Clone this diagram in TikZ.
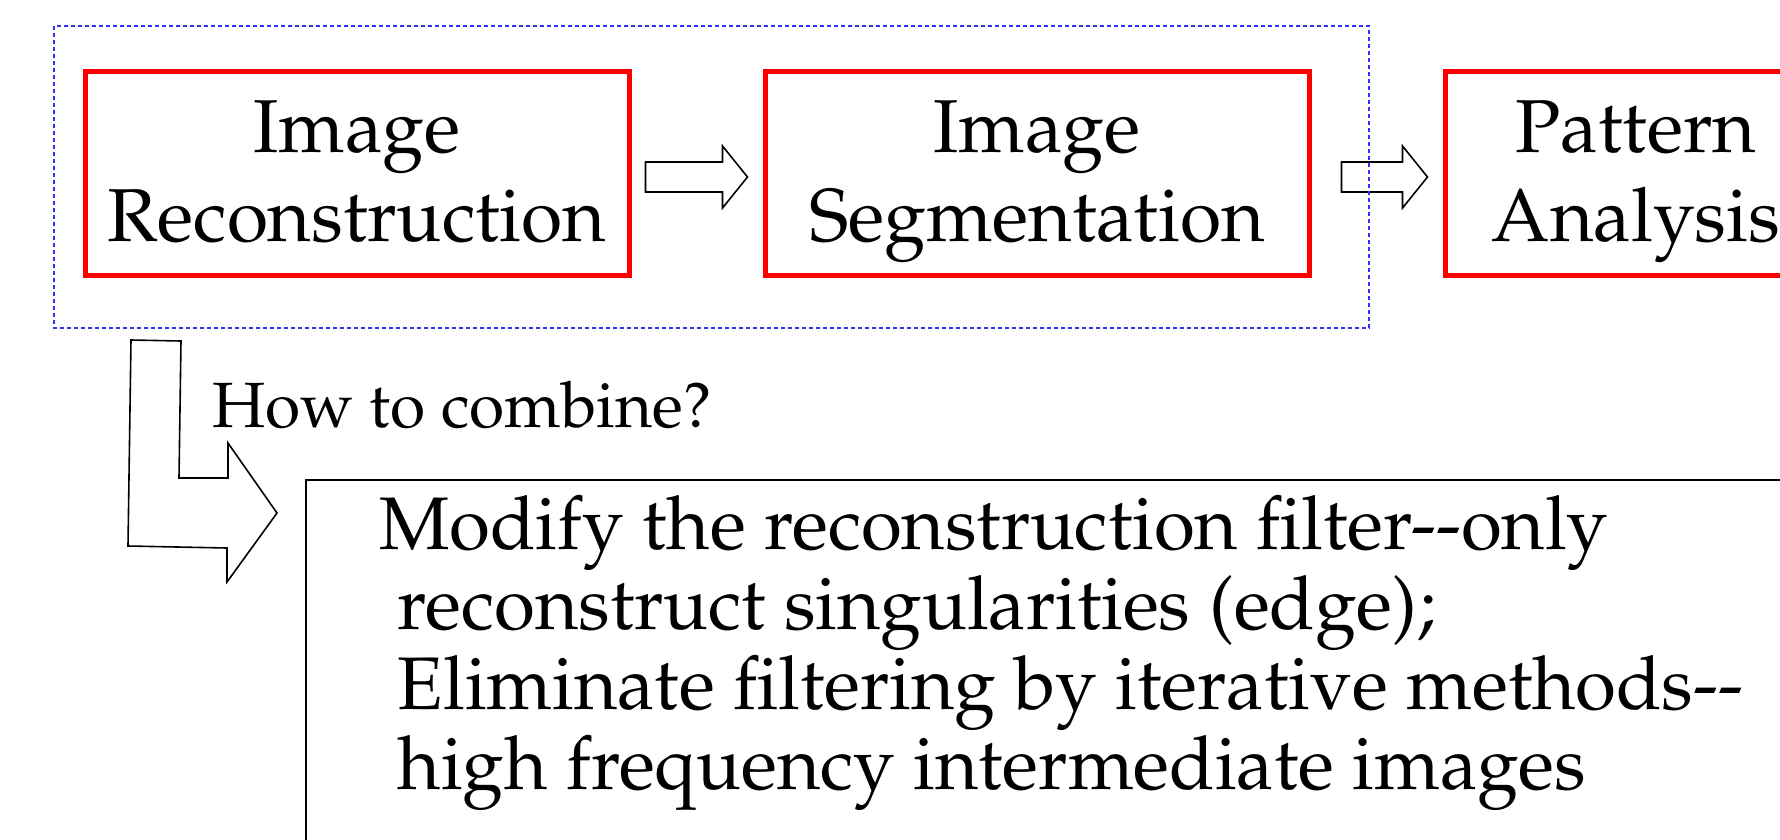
\documentclass[tikz,border=0pt]{standalone}
\usepackage[T1]{fontenc}
\usepackage{mathpazo}
\usetikzlibrary{calc}
\definecolor{framered}{RGB}{255,0,0}
\definecolor{groupblue}{RGB}{50,50,255}
\tikzset{
  stage/.style={draw=framered, line width=5pt, minimum height=204pt, inner sep=0pt,
    align=center, font=\fontsize{75}{89}\selectfont, text height=142pt, text depth=6pt},
  blockarrow/.style={draw=black, line width=1.6pt, fill=white, line join=miter},
  groupframe/.style={draw=groupblue, line width=1.3pt, dash pattern=on 4pt off 3pt},
  notebox/.style={draw=black, line width=1.6pt, inner sep=0pt},
  question/.style={anchor=base west, inner sep=0pt, font=\fontsize{64}{74}\selectfont},
  notetext/.style={anchor=base west, inner sep=0pt, align=left, font=\fontsize{74.5}{80}\selectfont},
}
% hollow block arrow between two stages: #1 source, #2 gap after it, #3 target, #4 gap before it
\newcommand{\flowarrow}[4]{%
  \draw[blockarrow] ($(#1.east)+(#2,-11)$) -- ($(#3.west)+(-#4-25,-11)$)
    -- ($(#3.west)+(-#4-25,-27)$) -- ($(#3.west)+(-#4,4)$)
    -- ($(#3.west)+(-#4-25,35)$) -- ($(#3.west)+(-#4-25,19)$)
    -- ($(#1.east)+(#2,19)$) -- cycle;}
\begin{document}
\begin{tikzpicture}[x=1pt,y=-1pt]
\useasboundingbox (0,0) rectangle (1780,839);
% processing stages
\node[stage, minimum width=544pt] (recon) at (357,173) {Image\\Reconstruction};
\node[stage, minimum width=544pt] (seg) at (1037,173) {Image\\Segmentation};
\node[stage, minimum width=382pt] (pattern) at (1636,173) {Pattern\\Analysis};
\flowarrow{recon}{14}{seg}{15}
\flowarrow{seg}{30}{pattern}{15}
% group of the first two stages
\draw[groupframe] (54,26) rectangle (1369,328);
% bent arrow down to the proposal
\draw[blockarrow] (131,340) -- (181,341) -- (179,478) -- (228,478) -- (228,443)
  -- (277,513) -- (227,582) -- (227,548) -- (128,546) -- cycle;
\node[question] (howto) at (212,427) {How to combine?};
% proposal box
\node[notebox, anchor=north west, minimum width=1600pt, minimum height=500pt] (note) at (305,479) {};
\node[notetext] (proposal) at (379,789) {Modify the reconstruction filter-{}-only\\
  \hspace*{0.25em}reconstruct singularities (edge);\\
  \hspace*{0.25em}Eliminate filtering by iterative methods-{}-\\
  \hspace*{0.25em}high frequency intermediate images};
\end{tikzpicture}
\end{document}
